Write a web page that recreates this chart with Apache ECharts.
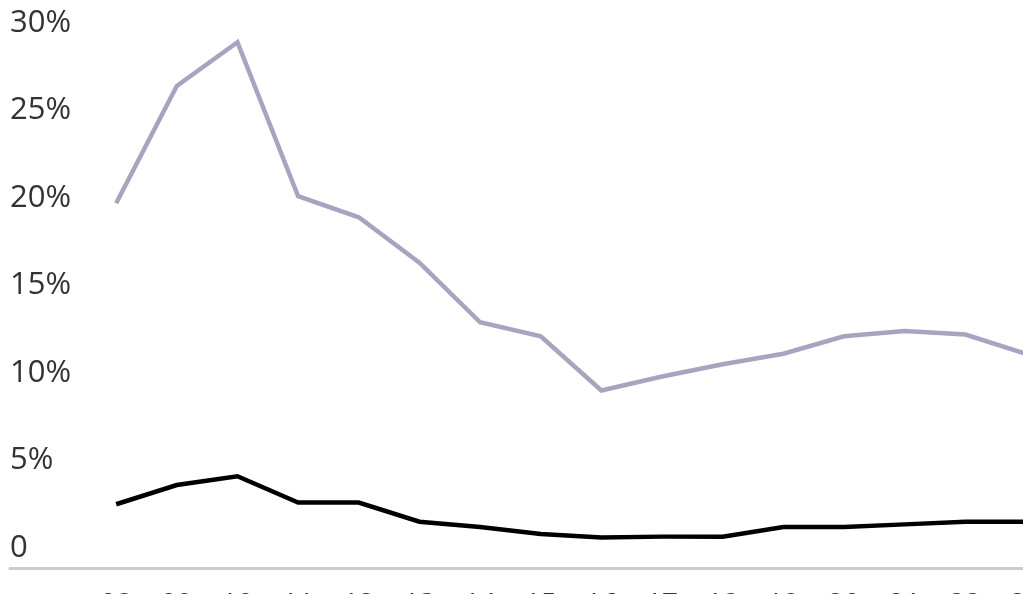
<!DOCTYPE html>
<html>
<head>
<meta charset="utf-8">
<style>
  html, body { margin: 0; padding: 0; background: #fff; }
  #chart { width: 1023px; height: 594px; }
</style>
<script src="https://cdn.jsdelivr.net/npm/echarts@6/dist/echarts.min.js"></script>
</head>
<body>
<div id="chart"></div>
<script>
// Years along the horizontal axis
const years = [2008, 2009, 2010, 2011, 2012, 2013, 2014, 2015,
               2016, 2017, 2018, 2019, 2020, 2021, 2022, 2023];

// Shares in percent
const upperSeries = [19.7, 26.4, 28.9, 20.1, 18.9, 16.3, 12.9, 12.1,
                     9.0, 9.8, 10.5, 11.1, 12.1, 12.4, 12.2, 11.1];
const lowerSeries = [2.5, 3.6, 4.1, 2.6, 2.6, 1.5, 1.2, 0.8,
                     0.6, 0.65, 0.65, 1.2, 1.2, 1.35, 1.5, 1.5];

// Vertical axis ticks
const yTicks = [0, 5, 10, 15, 20, 25, 30];

const toPairs = vals => vals.map((v, i) => [years[i], v]);

const chart = echarts.init(document.getElementById('chart'), null, { renderer: 'canvas' });

const font = '"Open Sans", "Liberation Sans", sans-serif';

chart.setOption({
  animation: false,
  backgroundColor: '#ffffff',
  grid: {
    left: 10, right: -3, top: 23, bottom: 46,
    containLabel: false,
    outerBoundsMode: 'none'
  },
  xAxis: {
    type: 'value',
    min: 2006.25,
    max: 2023,
    offset: 20,
    axisLine: { show: true, onZero: false, lineStyle: { color: '#cccccc', width: 3 } },
    axisTick: { show: false },
    splitLine: { show: false },
    axisLabel: {
      customValues: years,
      hideOverlap: false,
      showMinLabel: true,
      showMaxLabel: true,
      margin: 23,
      fontSize: 28,
      fontFamily: font,
      color: '#333333',
      formatter: v => String(Math.round(v)).slice(2)
    }
  },
  yAxis: {
    type: 'value',
    min: 0,
    max: 30,
    interval: 5,
    axisLine: { show: false },
    axisTick: { show: false },
    splitLine: { show: false },
    axisLabel: {
      customValues: yTicks,
      align: 'left',
      margin: 0,
      padding: [4, 0, 0, 0],
      fontSize: 31,
      fontFamily: font,
      color: '#333333',
      formatter: v => (v === 0 ? '0' : v + '%')
    }
  },
  series: [
    {
      type: 'line',
      data: toPairs(upperSeries),
      showSymbol: false,
      clip: false,
      lineStyle: { color: '#a8a4c0', width: 4.5, join: 'miter' },
      z: 2
    },
    {
      type: 'line',
      data: toPairs(lowerSeries),
      showSymbol: false,
      clip: false,
      lineStyle: { color: '#000000', width: 4.5, join: 'miter' },
      z: 3
    }
  ]
});
</script>
</body>
</html>
